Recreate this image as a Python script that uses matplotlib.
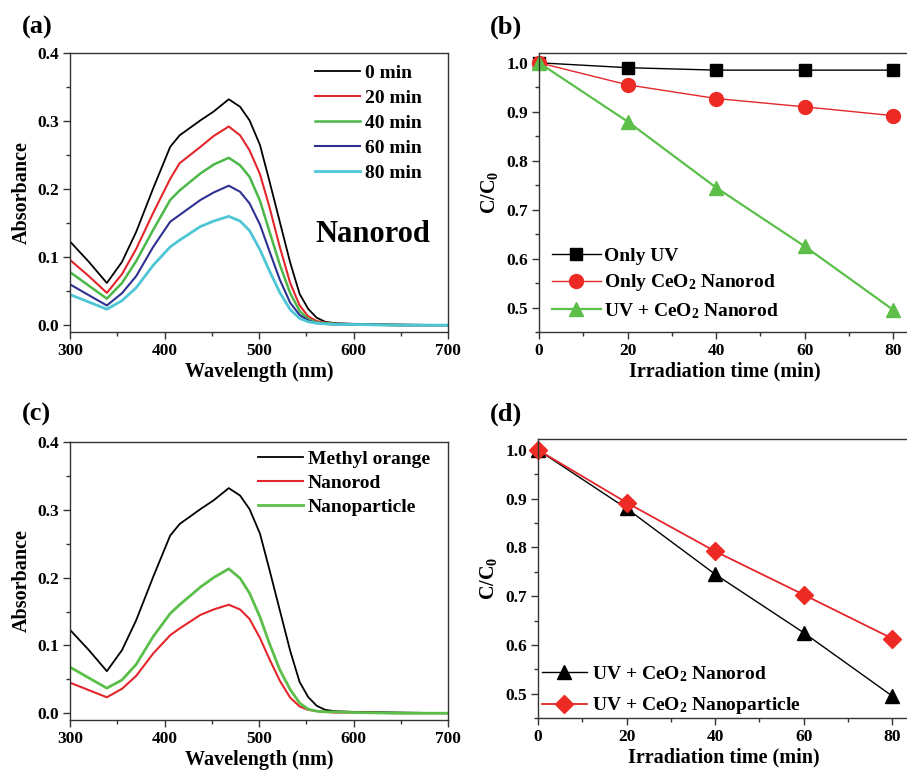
import matplotlib
matplotlib.use("Agg")
import matplotlib.pyplot as plt
from matplotlib.ticker import MultipleLocator
import numpy as np

plt.rcParams['font.family'] = ['Liberation Serif', 'DejaVu Serif']
plt.rcParams['font.weight'] = 'bold'
plt.rcParams['axes.labelweight'] = 'bold'
plt.rcParams['mathtext.fontset'] = 'custom'
plt.rcParams['mathtext.rm'] = 'Liberation Serif:bold'
plt.rcParams['mathtext.it'] = 'Liberation Serif:bold'
plt.rcParams['mathtext.bf'] = 'Liberation Serif:bold'

# wavelength grid (nm)
wl = [300, 320, 339, 355, 370, 388, 406, 416, 438, 452, 468, 480, 490, 501,
      511, 522, 533, 543, 552, 561, 570, 580, 600, 650, 700]

# (a) absorbance vs irradiation time (nanorod)
abs_0 = [0.123, 0.093, 0.062, 0.093, 0.137, 0.201, 0.262, 0.279, 0.301, 0.314, 0.332, 0.321, 0.301, 0.265,
         0.212, 0.152, 0.092, 0.046, 0.024, 0.011, 0.005, 0.003, 0.002, 0.001, 0.0]
abs_20 = [0.096, 0.072, 0.0475, 0.075, 0.112, 0.165, 0.215, 0.238, 0.262, 0.278, 0.292, 0.279, 0.257, 0.222,
          0.174, 0.115, 0.062, 0.029, 0.013, 0.006, 0.004, 0.002, 0.001, 0.0, 0.0]
abs_40 = [0.078, 0.058, 0.039, 0.062, 0.094, 0.140, 0.184, 0.198, 0.223, 0.236, 0.246, 0.235, 0.218, 0.183,
          0.138, 0.089, 0.047, 0.021, 0.009, 0.004, 0.003, 0.002, 0.001, 0.0, 0.0]
abs_60 = [0.060, 0.044, 0.029, 0.047, 0.072, 0.115, 0.152, 0.162, 0.184, 0.195, 0.205, 0.196, 0.179, 0.148,
          0.109, 0.067, 0.033, 0.015, 0.007, 0.003, 0.002, 0.001, 0.001, 0.0, 0.0]
abs_80 = [0.045, 0.034, 0.0235, 0.036, 0.055, 0.088, 0.115, 0.125, 0.145, 0.153, 0.160, 0.153, 0.139, 0.111,
          0.080, 0.048, 0.023, 0.010, 0.005, 0.003, 0.002, 0.001, 0.001, 0.0, 0.0]

# (c) comparison
abs_mo = abs_0
abs_rod = abs_80
abs_particle = [0.068, 0.052, 0.037, 0.049, 0.072, 0.113, 0.147, 0.160, 0.186, 0.200, 0.213, 0.199, 0.177, 0.142,
                0.103, 0.064, 0.035, 0.015, 0.006, 0.003, 0.002, 0.002, 0.001, 0.0, 0.0]

# (b), (d) degradation
t = [0, 20, 40, 60, 80]
only_uv = [1.0, 0.99, 0.985, 0.985, 0.985]
only_rod = [1.0, 0.955, 0.927, 0.91, 0.892]
uv_rod = [1.0, 0.88, 0.745, 0.625, 0.495]
uv_particle = [1.0, 0.892, 0.792, 0.703, 0.613]

W, H = 907, 770
fig = plt.figure(figsize=(W/100, H/100), dpi=100)

def box(l, r, top, bot):
    return [l/W, 1-bot/H, (r-l)/W, (bot-top)/H]

ax_a = fig.add_axes(box(70, 448, 53, 332))
ax_b = fig.add_axes(box(539, 911, 53, 332))
ax_c = fig.add_axes(box(70, 448, 442, 720))
ax_d = fig.add_axes(box(538, 910, 439, 718))

def style(ax):
    for s in ax.spines.values():
        s.set_color('#333333')
        s.set_linewidth(1.0)
    ax.tick_params(which='major', direction='out', length=5, width=1, labelsize=12.5, pad=3, color='#333333')
    ax.tick_params(which='minor', direction='out', length=3, width=1, color='#333333')
    for lab in ax.get_xticklabels() + ax.get_yticklabels():
        lab.set_fontweight('bold')

# (a)
ax_a.plot(wl, abs_0, color='black', lw=1.3, label='0 min')
ax_a.plot(wl, abs_20, color='#e3262b', lw=1.5, label='20 min')
ax_a.plot(wl, abs_40, color='#4cb849', lw=1.8, label='40 min')
ax_a.plot(wl, abs_60, color='#2e3192', lw=1.5, label='60 min')
ax_a.plot(wl, abs_80, color='#4ec6d6', lw=2.0, label='80 min')
ax_a.set_xlim(300, 700)
ax_a.set_ylim(-0.01, 0.4)
ax_a.xaxis.set_major_locator(MultipleLocator(100))
ax_a.xaxis.set_minor_locator(MultipleLocator(50))
ax_a.yaxis.set_major_locator(MultipleLocator(0.1))
ax_a.yaxis.set_minor_locator(MultipleLocator(0.05))
ax_a.set_xlabel('Wavelength (nm)', fontsize=14.5, labelpad=2)
ax_a.set_ylabel('Absorbance', fontsize=14.5, labelpad=4)
ax_a.legend(loc='upper left', bbox_to_anchor=(315/W, 1-64/H), bbox_transform=fig.transFigure,
            frameon=False, fontsize=14, handlelength=2.3, handletextpad=0.25, labelspacing=0.38,
            borderpad=0, borderaxespad=0)
fig.text(373/W, 1-234/H, 'Nanorod', fontsize=22, fontweight='bold', ha='center', va='center')
style(ax_a)

# (b)
ax_b.plot(t, only_uv, color='black', lw=1.0, marker='s', ms=9, mfc='black', mec='black',
          clip_on=False, label='Only UV')
ax_b.plot(t, only_rod, color='#e3262b', lw=1.0, marker='o', ms=10, mfc='#ee2a24', mec='#ee2a24',
          clip_on=False, label='Only CeO$_2$ Nanorod')
ax_b.plot(t, uv_rod, color='#5cbf4a', lw=1.6, marker='^', ms=10, mfc='#5cbf4a', mec='#5cbf4a',
          clip_on=False, label='UV + CeO$_2$ Nanorod')
ax_b.set_xlim(0, 84)
ax_b.set_ylim(0.45, 1.02)
ax_b.xaxis.set_major_locator(MultipleLocator(20))
ax_b.xaxis.set_minor_locator(MultipleLocator(10))
ax_b.yaxis.set_major_locator(MultipleLocator(0.1))
ax_b.yaxis.set_minor_locator(MultipleLocator(0.05))
ax_b.set_xlabel('Irradiation time (min)', fontsize=14.5, labelpad=2)
ax_b.set_ylabel('C/C$_0$', fontsize=14.5, labelpad=4)
ax_b.legend(loc='upper left', bbox_to_anchor=(552/W, 1-247/H), bbox_transform=fig.transFigure,
            frameon=False, fontsize=14, handlelength=2.5, handletextpad=0.15, labelspacing=0.4,
            borderpad=0, borderaxespad=0)
style(ax_b)

# (c)
ax_c.plot(wl, abs_mo, color='black', lw=1.3, label='Methyl orange')
ax_c.plot(wl, abs_rod, color='#e3262b', lw=1.5, label='Nanorod')
ax_c.plot(wl, abs_particle, color='#5cbf4a', lw=2.0, label='Nanoparticle')
ax_c.set_xlim(300, 700)
ax_c.set_ylim(-0.01, 0.4)
ax_c.xaxis.set_major_locator(MultipleLocator(100))
ax_c.xaxis.set_minor_locator(MultipleLocator(50))
ax_c.yaxis.set_major_locator(MultipleLocator(0.1))
ax_c.yaxis.set_minor_locator(MultipleLocator(0.05))
ax_c.set_xlabel('Wavelength (nm)', fontsize=14.5, labelpad=2)
ax_c.set_ylabel('Absorbance', fontsize=14.5, labelpad=4)
ax_c.legend(loc='upper left', bbox_to_anchor=(258/W, 1-450/H), bbox_transform=fig.transFigure,
            frameon=False, fontsize=14, handlelength=2.3, handletextpad=0.25, labelspacing=0.33,
            borderpad=0, borderaxespad=0)
style(ax_c)

# (d)
ax_d.plot(t, uv_rod, color='black', lw=1.0, marker='^', ms=10, mfc='black', mec='black',
          clip_on=False, label='UV + CeO$_2$ Nanorod')
ax_d.plot(t, uv_particle, color='#e3262b', lw=1.3, marker='D', ms=9, mfc='#ee2a24', mec='#ee2a24',
          clip_on=False, label='UV + CeO$_2$ Nanoparticle')
ax_d.set_xlim(0, 84)
ax_d.set_ylim(0.45, 1.0225)
ax_d.xaxis.set_major_locator(MultipleLocator(20))
ax_d.xaxis.set_minor_locator(MultipleLocator(10))
ax_d.yaxis.set_major_locator(MultipleLocator(0.1))
ax_d.yaxis.set_minor_locator(MultipleLocator(0.05))
ax_d.set_xlabel('Irradiation time (min)', fontsize=14.5, labelpad=2)
ax_d.set_ylabel('C/C$_0$', fontsize=14.5, labelpad=4)
ax_d.legend(loc='upper left', bbox_to_anchor=(542/W, 1-664/H), bbox_transform=fig.transFigure,
            frameon=False, fontsize=14, handlelength=2.3, handletextpad=0.25, labelspacing=0.6,
            borderpad=0, borderaxespad=0)
style(ax_d)

# panel letters
for x, y, s in [(22, 27, '(a)'), (490, 27, '(b)'), (22, 414, '(c)'), (490, 414, '(d)')]:
    fig.text(x/W, 1-y/H, s, fontsize=19, fontweight='bold', ha='left', va='center')

fig.savefig('out.png', dpi=100)
